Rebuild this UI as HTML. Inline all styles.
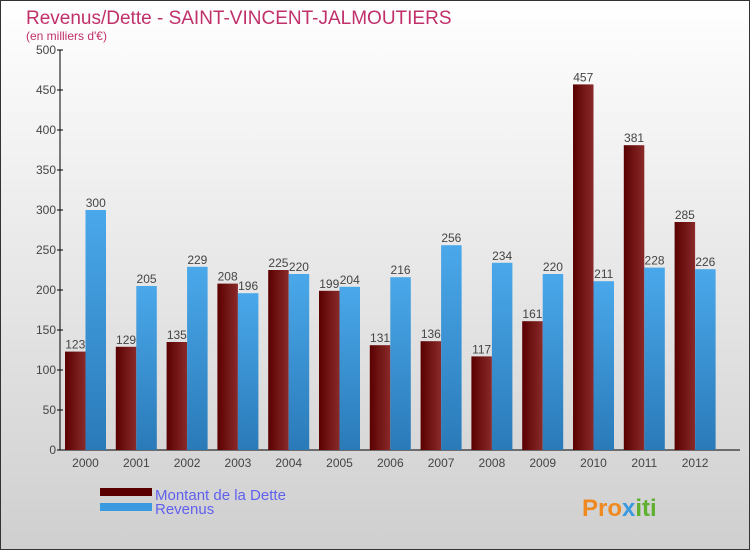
<!DOCTYPE html>
<html><head><meta charset="utf-8"><style>
body{margin:0}
svg text{font-family:"Liberation Sans",sans-serif}
</style></head><body>
<svg width="750" height="550" viewBox="0 0 750 550">
<defs>
<linearGradient id="bg" x1="0" y1="0" x2="0" y2="1"><stop offset="0" stop-color="#ffffff"/><stop offset="1" stop-color="#cfcfcf"/></linearGradient>
<linearGradient id="gd" x1="0" y1="0" x2="1" y2="0"><stop offset="0" stop-color="#5a0000"/><stop offset="1" stop-color="#8a2a2a"/></linearGradient>
<linearGradient id="gr" x1="0" y1="0" x2="0" y2="1"><stop offset="0" stop-color="#4aa8ea"/><stop offset="1" stop-color="#2a7ab8"/></linearGradient>
</defs>
<rect x="0.5" y="0.5" width="749" height="549" fill="url(#bg)" stroke="#333"/>
<text x="26" y="24" font-size="19" fill="#c0306a">Revenus/Dette - SAINT-VINCENT-JALMOUTIERS</text>
<text x="26" y="40" font-size="12" fill="#c0306a">(en milliers d'€)</text>
<g id="axes"></g>
<g id="bars"></g>
<rect x="100" y="488" width="52" height="8" fill="#5a0000"/>
<rect x="100" y="503" width="52" height="8" fill="#3a9ae0"/>
<text x="155" y="500" font-size="15" fill="#6060ee">Montant de la Dette</text>
<text x="155" y="514" font-size="15" fill="#6060ee">Revenus</text>
<text x="582" y="516" font-size="24" font-weight="bold" fill="#f08a20">Pro<tspan fill="#3a9ae0">x</tspan><tspan fill="#60b030">iti</tspan></text>
</svg>
<script>
const years=["2000","2001","2002","2003","2004","2005","2006","2007","2008","2009","2010","2011","2012"];
const dette=[123,129,135,208,225,199,131,136,117,161,457,381,285];
const revenus=[300,205,229,196,220,204,216,256,234,220,211,228,226];
const yTicks=[0,50,100,150,200,250,300,350,400,450,500];
const NS="http://www.w3.org/2000/svg";
const y0=450,yScale=0.8,x0=65,step=50.8,bw=20.5;
const yv=v=>y0-v*yScale;
function mk(t,a,p){const e=document.createElementNS(NS,t);for(const k in a)e.setAttribute(k,a[k]);p.appendChild(e);return e;}
const ax=document.getElementById('axes'),bg=document.getElementById('bars');
const yl=mk('line',{x1:60,y1:yv(500),x2:60,y2:y0,stroke:'#000'},ax);


const xl=mk('line',{x1:60,y1:y0,x2:740,y2:y0,stroke:'#000'},ax);


yTicks.forEach(v=>{
 mk('line',{x1:57,y1:yv(v),x2:63,y2:yv(v),stroke:'#000'},ax);
 const t=mk('text',{x:56,y:yv(v)+4,'font-size':12,'text-anchor':'end',fill:'#444'},ax);
 t.textContent=v;
 
 
});
years.forEach((yr,i)=>{
 const x=x0+i*step;
 const d=mk('rect',{x:x,y:yv(dette[i]),width:bw,height:dette[i]*yScale,fill:'url(#gd)'},bg);
 
 
 const r=mk('rect',{x:x+bw,y:yv(revenus[i]),width:bw,height:revenus[i]*yScale,fill:'url(#gr)'},bg);
 
 
 const l1=mk('text',{x:x+bw/2,y:yv(dette[i])-3,'font-size':12,'text-anchor':'middle',fill:'#444'},bg);
 l1.textContent=dette[i];
 
 
 const l2=mk('text',{x:x+bw*1.5,y:yv(revenus[i])-3,'font-size':12,'text-anchor':'middle',fill:'#444'},bg);
 l2.textContent=revenus[i];
 
 
 const xt=mk('text',{x:x+bw,y:467,'font-size':12,'text-anchor':'middle',fill:'#444'},ax);
 xt.textContent=yr;
 
 
});
</script>
</body></html>
